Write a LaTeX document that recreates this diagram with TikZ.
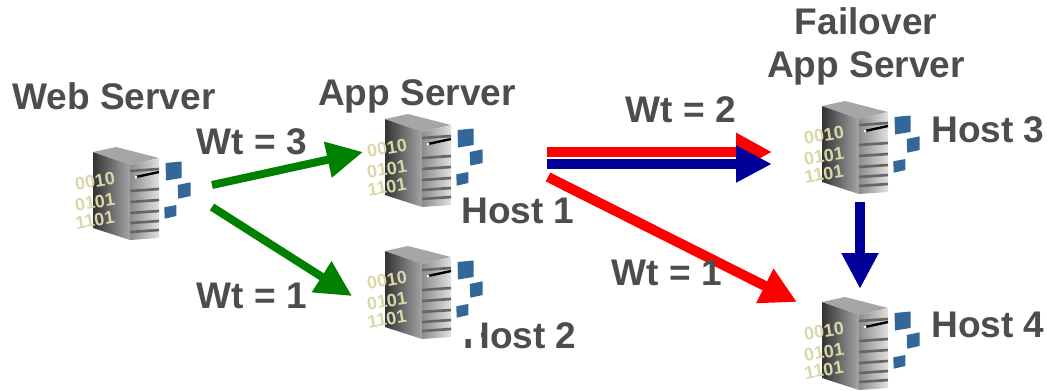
\documentclass[tikz,border=0pt]{standalone}
\usepackage{fontspec}
\setmainfont{Liberation Sans}
\usetikzlibrary{arrows.meta}
\definecolor{labelgray}{RGB}{77,77,77}
\definecolor{flowgreen}{RGB}{0,128,0}
\definecolor{flowblue}{RGB}{0,0,153}
\definecolor{tileblue}{RGB}{51,102,153}
\definecolor{bitkhaki}{RGB}{216,216,168}
\tikzset{every picture/.style={line width=0.75pt},
	hostlabel/.style={text=labelgray,font=\fontsize{27.8}{30}\selectfont\bfseries,inner sep=0pt},
	bits/.style={text=bitkhaki,font=\fontsize{13.5}{14}\selectfont\bfseries,inner sep=0pt,rotate=9},
	tile/.style={fill=tileblue,draw=none},
	slat/.style={draw=black!60,line width=2pt},
	greenflow/.style={draw=flowgreen,line width=6pt,-{Triangle[length=27pt,width=26pt]}},
	redflow/.style={draw=red,line width=7.5pt,-{Triangle[length=27pt,width=27pt]}},
	blueflow/.style={draw=flowblue,line width=7.5pt,-{Triangle[length=27pt,width=26pt]}}}
\newcommand{\servericon}[1]{
	\begin{scope}[shift={#1}]
		\shade [left color=black!80,right color=black!35] (0,2) -- (37,14) -- (37,90) -- (0,78) -- cycle ;
		\fill [black!35] (0,2) -- (23,-3) -- (66,8) -- (37,15) -- cycle ;
		\shade [left color=black!45,right color=black!12] (37,15) -- (66,8) -- (66,88) -- (37,90) -- cycle ;
		\foreach \y in {21,41,52,63,73,82}
			\draw [slat] (37,\y) -- (66,\y-2) ;
		\draw [black,line width=1.8pt] (43,27) -- (66,22) ;
		\fill [white] (43,27) circle (1.5) ;
		\fill [tile] (72.5,13) -- (88.5,11.5) -- (88.5,28) -- (73,30.5) -- cycle ;
		\fill [tile] (84.7,35) -- (97.7,32.3) -- (97.7,46) -- (85.3,48.7) -- cycle ;
		\fill [tile] (71.3,57.3) -- (83.3,55) -- (83.3,66) -- (71.7,68.7) -- cycle ;
		\node [bits] at (2,31) {0010} ;
		\node [bits] at (2,52) {0101} ;
		\node [bits] at (2,70) {1101} ;
	\end{scope}
}

\begin{document}
\begin{tikzpicture}[x=0.75pt,y=0.75pt,yscale=-1,xscale=1]
	\path [use as bounding box] (0,0) rectangle (1047,390);

	%Server icons
	\servericon{(93,150)}
	\servericon{(385,117)}
	\servericon{(385,249)}
	\servericon{(822,104)}
	\begin{scope}
		\clip (780,290) rectangle (1047,390);
		\servericon{(822,300)}
	\end{scope}

	% Arrow ends
	\coordinate (webOutA) at (212,185);
	\coordinate (appIn) at (363,152);
	\coordinate (webOutB) at (212,207);
	\coordinate (hostTwoIn) at (352,296);
	\coordinate (appOutA) at (547,152);
	\coordinate (failA) at (772,152);
	\coordinate (appOutB) at (547,164);
	\coordinate (failB) at (772,164);
	\coordinate (appOutC) at (548,177);
	\coordinate (hostFourIn) at (797,302);
	\coordinate (failOut) at (860,202);
	\coordinate (hostFourTop) at (860,289);

	\draw [greenflow] (webOutA) -- (appIn) ;
	\draw [greenflow] (webOutB) -- (hostTwoIn) ;
	\draw [redflow] (appOutA) -- (failA) ;
	\draw [blueflow] (appOutB) -- (failB) ;
	\draw [redflow] (appOutC) -- (hostFourIn) ;
	\draw [blueflow] (failOut) -- (hostFourTop) ;

	% Text Node
	\node [hostlabel] (webLabel) at (114,96) {Web Server};
	\node [hostlabel] (appLabel) at (417,96) {App Server};
	\node [hostlabel] (failLabel) at (866,21) {Failover};
	\node [hostlabel] (failAppLabel) at (866,68) {App Server};
	\node [hostlabel] (hostOne) at (518,211) {Host 1};
	\node [hostlabel] (hostTwo) at (520,336) {Host 2};
	\node [hostlabel] (hostThree) at (988,130) {Host 3};
	\node [hostlabel] (hostFour) at (988,325) {Host 4};
	\node [hostlabel] (wtA) at (252,142) {Wt = 3};
	\node [hostlabel] (wtB) at (252,296) {Wt = 1};
	\node [hostlabel] (wtC) at (681,110) {Wt = 2};
	\node [hostlabel] (wtD) at (667,273) {Wt = 1};

	% Patch over the H
	\fill [white] (462,318) rectangle (481,339) ;
	\end{tikzpicture}
\end{document}
